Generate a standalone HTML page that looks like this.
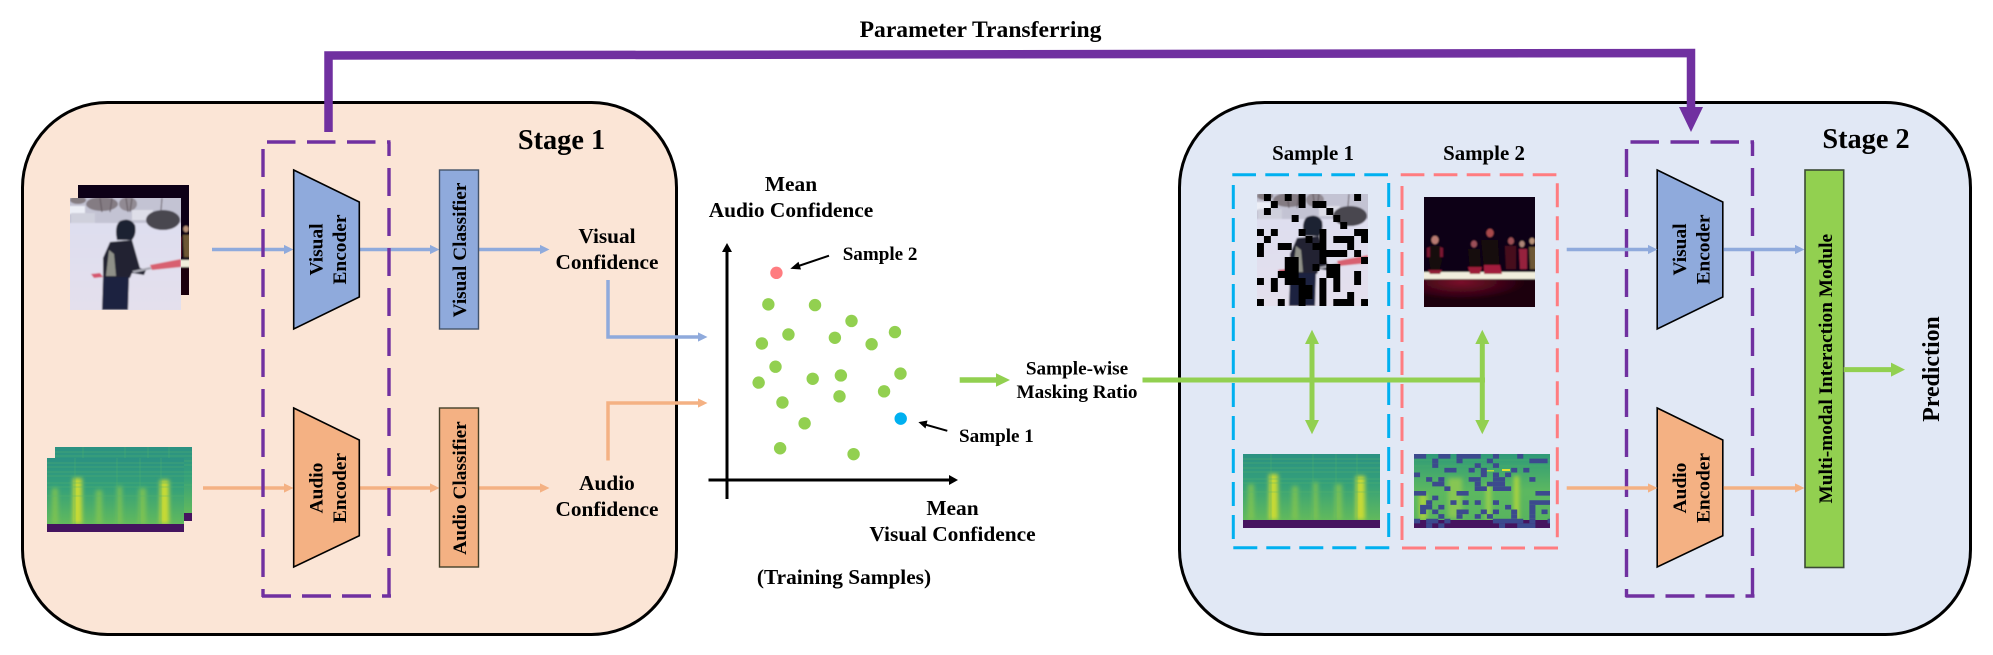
<!DOCTYPE html>
<html lang="en">
<head>
<meta charset="utf-8">
<title>Two-stage sample-wise masking pipeline</title>
<style>
html,body{margin:0;padding:0;background:#fff;width:1993px;height:655px;overflow:hidden}
svg#diagram{display:block}
text{font-family:"Liberation Serif","Noto Serif CJK SC",serif;font-weight:bold;fill:#000}
.mid{text-anchor:middle}
</style>
</head>
<body>
<svg id="diagram" xmlns="http://www.w3.org/2000/svg" width="1993" height="655" viewBox="0 0 1993 655">
<defs>
  <filter id="soft" x="-5%" y="-5%" width="110%" height="110%"><feGaussianBlur stdDeviation="0.7"/></filter>
  <filter id="soft2" x="-60%" y="-20%" width="220%" height="140%"><feGaussianBlur stdDeviation="2.2"/></filter>
  <linearGradient id="specBase" x1="0" y1="0" x2="0" y2="1">
    <stop offset="0" stop-color="#2b9182"/><stop offset="0.4" stop-color="#34a07a"/><stop offset="0.9" stop-color="#62ba5c"/>
  </linearGradient>
  <linearGradient id="specBase2" x1="0" y1="0" x2="0" y2="1">
    <stop offset="0" stop-color="#2e9a78"/><stop offset="0.5" stop-color="#5cb860"/><stop offset="0.9" stop-color="#58b45f"/>
  </linearGradient>
  <linearGradient id="snowGround" x1="0" y1="0" x2="0" y2="1">
    <stop offset="0" stop-color="#dcddf0"/><stop offset="1" stop-color="#e4e0ec"/>
  </linearGradient>
  <radialGradient id="stageGlow" cx="0.35" cy="0.1" r="0.55">
    <stop offset="0" stop-color="#7a0a2a"/><stop offset="1" stop-color="#1a030c"/>
  </radialGradient>

  <g id="snow-scene">
    <g filter="url(#soft)">
      <rect x="-5" y="-5" width="121" height="122" fill="url(#snowGround)"/>
      <rect x="-5" y="-5" width="121" height="30" fill="#c3c3d3"/>
      <ellipse cx="32" cy="6" rx="16" ry="7" fill="#6f6468" opacity="0.75"/>
      <ellipse cx="58" cy="6" rx="9" ry="7" fill="#7c7278" opacity="0.7"/>
      <ellipse cx="8" cy="2" rx="8" ry="4" fill="#6b5f60" opacity="0.7"/>
      <path d="M30 0 L32 14 M42 0 L40 14 M56 0 L58 14 M62 0 L60 14 M92 0 L91 12" stroke="#5f555b" stroke-width="1" fill="none"/>
      <rect x="-3" y="8" width="18" height="8" fill="#eceef6"/>
      <rect x="1" y="15" width="24" height="10" fill="#cfd0dc"/>
      <rect x="62" y="12" width="21" height="10" fill="#dedee8"/>
      <ellipse cx="93" cy="22" rx="17" ry="10" fill="#4a4650"/>
      <path d="M47 42 Q44 28 50 23 Q60 19 65 27 Q67 36 62 42 Z" fill="#1f2130"/>
      <path d="M40 44 L62 42 L70 70 L76 72 L74 77 L62 75 L60 80 L33 80 L33 60 Z" fill="#222433"/>
      <path d="M39 52 L44 56 L46 78 L36 78 Z" fill="#8f9088"/>
      <path d="M33 79 L59 79 L58 112 L32 112 Z" fill="#1e2340"/>
      <path d="M21 76 L30 75 L33 79 L24 80 Z" fill="#d5576e"/>
      <path d="M62 73 L80 69 L82 71 L64 75 Z" fill="#a8a8b2"/>
      <path d="M80 67 L111 61 L111 69 L82 72 Z" fill="#d8606f"/>
    </g>
  </g>

  <g id="stage-scene">
    <g filter="url(#soft)">
      <rect x="-5" y="-5" width="121" height="122" fill="#0a0514"/>
      <rect x="-5" y="82" width="121" height="33" fill="url(#stageGlow)"/>
      <rect x="-5" y="75" width="121" height="7" fill="#f1eedd"/>
      <ellipse cx="11" cy="43" rx="3.6" ry="4.2" fill="#b97a72"/>
      <path d="M5 49 L17 49 L18 64 L15 75 L7 75 L5 64 Z" fill="#12080d"/>
      <path d="M3 51 L6 50 L6 60 L3 60 Z M16 50 L19 51 L19 60 L16 60 Z" fill="#7c1530"/>
      <path d="M4 73 L18 73 L16 77 L6 77 Z" fill="#8f1a34"/>
      <ellipse cx="50" cy="47" rx="3" ry="3.5" fill="#9c5058"/>
      <path d="M44 52 L56 52 L57 75 L46 75 Z" fill="#15080e"/>
      <path d="M44 70 L58 70 L56 77 L46 77 Z" fill="#9c1c38"/>
      <ellipse cx="66" cy="36" rx="3.6" ry="4.2" fill="#a8484c"/>
      <path d="M57 43 L74 43 L76 75 L60 75 Z" fill="#120709"/>
      <path d="M60 68 L76 68 L78 77 L60 77 Z" fill="#a21c3c"/>
      <ellipse cx="87" cy="44" rx="3" ry="3.6" fill="#9c5054"/>
      <path d="M81 49 L92 49 L92 72 L82 72 Z" fill="#47101e"/>
      <ellipse cx="98" cy="47" rx="2.6" ry="3.2" fill="#ae8678"/>
      <path d="M95 52 L103 52 L103 72 L96 72 Z" fill="#96203e"/>
      <ellipse cx="108" cy="44" rx="2.6" ry="3.2" fill="#b89278"/>
      <path d="M105 50 L113 50 L113 72 L106 72 Z" fill="#6e5834"/>
    </g>
  </g>

  <g id="spectrogram">
    <rect width="137" height="74" fill="url(#specBase)"/>
    <g filter="url(#soft2)">
      <rect x="5" y="30" width="6" height="36" fill="#86c650" opacity="0.8"/>
      <rect x="26" y="20" width="9" height="46" fill="#c8da36"/>
      <rect x="49" y="32" width="6" height="34" fill="#86c650" opacity="0.8"/>
      <rect x="70" y="28" width="5" height="38" fill="#86c650" opacity="0.8"/>
      <rect x="92" y="30" width="7" height="36" fill="#86c650" opacity="0.8"/>
      <rect x="113" y="22" width="9" height="44" fill="#c8da36"/>
    </g>
    <path d="M0 5 H137 M0 9 H137 M0 14 H137 M0 18 H137 M0 25 H137 M0 29 H137 M0 38 H137" stroke="#5ab76c" stroke-width="0.7" opacity="0.55"/>
    <path d="M28 0 V66 M70 0 V66 M93 0 V66 M114 0 V66" stroke="#50b36b" stroke-width="0.8" opacity="0.5"/>
    <rect y="66" width="137" height="8" fill="#45145f"/>
  </g>

  <g id="spectrogram-two">
    <rect width="136" height="74" fill="url(#specBase2)"/>
    <path d="M0 6 H136 M0 12 H136 M0 21 H136" stroke="#48ad6c" stroke-width="0.8" opacity="0.8"/>
    <g filter="url(#soft2)">
      <rect x="5" y="40" width="8" height="26" fill="#a6d140"/>
      <rect x="72" y="30" width="5" height="36" fill="#9fd048"/>
      <rect x="100" y="22" width="5" height="44" fill="#b0d53c"/>
      <rect x="34" y="24" width="14" height="40" fill="#86c653"/>
    </g>
    <rect x="88" y="15" width="8" height="2" fill="#e2e22c"/>
    <rect x="70" y="16" width="10" height="1.5" fill="#b6d83a"/>
    <rect y="66" width="136" height="8" fill="#45145f"/>
  </g>
</defs>

<!-- stage panels -->
<rect x="22.5" y="102.5" width="654" height="532" rx="85" ry="85" fill="#fbe5d6" stroke="#000" stroke-width="3"/>
<rect x="1179.5" y="102.5" width="791" height="532" rx="85" ry="85" fill="#e1e8f5" stroke="#000" stroke-width="3"/>

<!-- parameter transfer -->
<g>
  <polyline points="328.5,132 328.5,55.5 1691,53 1691,108" fill="none" stroke="#7030a0" stroke-width="8.5"/>
  <polygon points="1679,107 1703,107 1691,132" fill="#7030a0"/>
</g>
<text x="980.5" y="37" class="mid" font-size="23.6" >Parameter Transferring</text>

<text x="561.5" y="149" class="mid" font-size="28.3">Stage 1</text>
<text x="1866" y="148" class="mid" font-size="28.3">Stage 2</text>

<!-- input images stage 1 -->
<svg x="78" y="185" width="111" height="110" viewBox="0 0 111 110"><use href="#stage-scene"/></svg>
<svg x="70" y="198" width="111" height="112" viewBox="0 0 111 112"><use href="#snow-scene"/></svg>
<svg x="55" y="447" width="137" height="74" viewBox="0 0 137 74"><use href="#spectrogram"/></svg>
<svg x="47" y="458" width="137" height="74" viewBox="0 0 137 74"><use href="#spectrogram"/></svg>

<!-- stage 1 flow arrows -->
<g stroke="#8faadc" stroke-width="3.5" fill="#8faadc">
  <line x1="212" y1="249.5" x2="285" y2="249.5"/><polygon stroke="none" points="284,244.9 293.5,249.5 284,254.1"/>
  <line x1="360" y1="249.5" x2="431" y2="249.5"/><polygon stroke="none" points="430,244.9 439.5,249.5 430,254.1"/>
  <line x1="479" y1="249.5" x2="541" y2="249.5"/><polygon stroke="none" points="540,244.9 549.5,249.5 540,254.1"/>
</g>
<g stroke="#f4b183" stroke-width="3.5" fill="#f4b183">
  <line x1="203" y1="488" x2="285" y2="488"/><polygon stroke="none" points="284,483.4 293.5,488 284,492.6"/>
  <line x1="360" y1="488" x2="431" y2="488"/><polygon stroke="none" points="430,483.4 439.5,488 430,492.6"/>
  <line x1="479" y1="488" x2="541" y2="488"/><polygon stroke="none" points="540,483.4 549.5,488 540,492.6"/>
</g>
<g>
  <polyline points="608,280 608,337 699,337" fill="none" stroke="#8faadc" stroke-width="3.5"/>
  <polygon points="698,332.4 707.5,337 698,341.6" fill="#8faadc"/>
</g>
<g>
  <polyline points="608,460.5 608,403 699,403" fill="none" stroke="#f4b183" stroke-width="3.5"/>
  <polygon points="698,398.4 707.5,403 698,407.6" fill="#f4b183"/>
</g>

<!-- encoder modules stage 1 and stage 2 -->
<g>
  <g stroke="#7030a0" stroke-width="3.4" fill="none">
    <line x1="267" y1="142" x2="390.5" y2="142" stroke-dasharray="28.5 11.5"/>
    <line x1="389" y1="142" x2="389" y2="597" stroke-dasharray="28 12" stroke-dashoffset="14"/>
    <line x1="263" y1="149" x2="263" y2="597" stroke-dasharray="28 12"/>
    <line x1="262" y1="596" x2="391" y2="596" stroke-dasharray="29 11"/>
  </g>
  <polygon points="293.7,170 359.3,202 359.3,297 293.7,329" fill="#8faadc" stroke="#000" stroke-width="1.6"/>
  <text class="mid" font-size="19.4" transform="translate(322.5,249.5) rotate(-90)">Visual</text>
  <text class="mid" font-size="19.4" transform="translate(346,249.5) rotate(-90)">Encoder</text>
  <polygon points="293.7,408 359.3,440 359.3,535.7 293.7,567" fill="#f4b183" stroke="#000" stroke-width="1.6"/>
  <text class="mid" font-size="19.4" transform="translate(322.5,488) rotate(-90)">Audio</text>
  <text class="mid" font-size="19.4" transform="translate(346,488) rotate(-90)">Encoder</text>
</g>
<g transform="translate(1363.5,0)">
  <g stroke="#7030a0" stroke-width="3.4" fill="none">
    <line x1="267" y1="142" x2="390.5" y2="142" stroke-dasharray="28.5 11.5"/>
    <line x1="389" y1="142" x2="389" y2="597" stroke-dasharray="28 12" stroke-dashoffset="14"/>
    <line x1="263" y1="149" x2="263" y2="597" stroke-dasharray="28 12"/>
    <line x1="262" y1="596" x2="391" y2="596" stroke-dasharray="29 11"/>
  </g>
  <polygon points="293.7,170 359.3,202 359.3,297 293.7,329" fill="#8faadc" stroke="#000" stroke-width="1.6"/>
  <text class="mid" font-size="19.4" transform="translate(322.5,249.5) rotate(-90)">Visual</text>
  <text class="mid" font-size="19.4" transform="translate(346,249.5) rotate(-90)">Encoder</text>
  <polygon points="293.7,408 359.3,440 359.3,535.7 293.7,567" fill="#f4b183" stroke="#000" stroke-width="1.6"/>
  <text class="mid" font-size="19.4" transform="translate(322.5,488) rotate(-90)">Audio</text>
  <text class="mid" font-size="19.4" transform="translate(346,488) rotate(-90)">Encoder</text>
</g>

<!-- classifiers -->
<rect x="439.5" y="170" width="39" height="159" fill="#8faadc" stroke="#44546a" stroke-width="1.4"/>
<text class="mid" font-size="19.3" transform="translate(466,250) rotate(-90)">Visual Classifier</text>
<rect x="439.5" y="408" width="39" height="159" fill="#f4b183" stroke="#44402a" stroke-width="1.4"/>
<text class="mid" font-size="19.3" transform="translate(466,488) rotate(-90)">Audio Classifier</text>

<text x="607" y="243" class="mid" font-size="21.3">Visual</text>
<text x="607" y="269" class="mid" font-size="21.3">Confidence</text>
<text x="607" y="490" class="mid" font-size="21.3">Audio</text>
<text x="607" y="516" class="mid" font-size="21.3">Confidence</text>

<!-- scatter chart -->
<g id="scatter">
  <g>
    <line x1="708.5" y1="480" x2="950" y2="480" stroke="#000" stroke-width="3"/>
    <polygon points="949,475 958,480 949,485" fill="#000"/>
  </g>
  <g>
    <line x1="727" y1="499" x2="727" y2="251" stroke="#000" stroke-width="3"/>
    <polygon points="722,252 727,243 732,252" fill="#000"/>
  </g>
  <text x="791" y="191" class="mid" font-size="21.4">Mean</text>
  <text x="791" y="217" class="mid" font-size="21.4">Audio Confidence</text>
  <text x="952.5" y="515" class="mid" font-size="21.4">Mean</text>
  <text x="952.5" y="541" class="mid" font-size="21.4">Visual Confidence</text>
  <text x="844" y="584" class="mid" font-size="21.3">(Training Samples)</text>
  <text x="842.7" y="260" font-size="19.1">Sample 2</text>
  <text x="959" y="442" font-size="19.1">Sample 1</text>
  <g>
    <line x1="829" y1="255.7" x2="797" y2="266.5" stroke="#000" stroke-width="2"/>
    <polygon points="790.3,268.8 798.5,261.8 801,269.5" fill="#000"/>
  </g>
  <g>
    <line x1="947.3" y1="430.8" x2="925" y2="424.5" stroke="#000" stroke-width="2"/>
    <polygon points="918.4,422.1 927.5,420.5 925.5,428.5" fill="#000"/>
  </g>
</g>

<!-- masking ratio -->
<g>
  <line x1="959.7" y1="380" x2="997" y2="380" stroke="#92d050" stroke-width="5.5"/>
  <polygon points="996,373.3 1010,380 996,386.7" fill="#92d050"/>
</g>
<text x="1077" y="374.7" class="mid" font-size="19.2">Sample-wise</text>
<text x="1077" y="398" class="mid" font-size="19.2">Masking Ratio</text>

<!-- sample dashed boxes -->
<g stroke="#00b0f0" stroke-width="3" fill="none">
  <line x1="1232.3" y1="174.7" x2="1388" y2="174.7" stroke-dasharray="23.7 9.3"/>
  <line x1="1233.3" y1="185" x2="1233.3" y2="540" stroke-dasharray="24 9"/>
  <line x1="1388.7" y1="183" x2="1388.7" y2="538" stroke-dasharray="24 9"/>
  <line x1="1233.3" y1="547.7" x2="1390" y2="547.7" stroke-dasharray="24 9"/>
</g>
<g stroke="#ff7c80" stroke-width="3" fill="none">
  <line x1="1400.7" y1="174.7" x2="1557" y2="174.7" stroke-dasharray="23.7 9.3"/>
  <line x1="1402" y1="186" x2="1402" y2="540" stroke-dasharray="24 9"/>
  <line x1="1557.3" y1="183.3" x2="1557.3" y2="539" stroke-dasharray="24 9"/>
  <line x1="1402" y1="548" x2="1559" y2="548" stroke-dasharray="24 9"/>
</g>
<text x="1313" y="160" class="mid" font-size="20.9">Sample 1</text>
<text x="1484" y="160" class="mid" font-size="20.9">Sample 2</text>

<!-- sample images -->
<svg id="maskedVideo" x="1257" y="194" width="111" height="112" viewBox="0 0 111 112"><use href="#snow-scene"/></svg>
<svg x="1424" y="197" width="111" height="110" viewBox="0 0 111 110"><use href="#stage-scene"/></svg>
<svg x="1243" y="454" width="137" height="74" viewBox="0 0 137 74"><use href="#spectrogram"/></svg>
<svg id="maskedAudio" x="1414" y="454" width="136" height="74" viewBox="0 0 136 74"><use href="#spectrogram-two"/></svg>

<!-- green masking connector -->
<g fill="#92d050">
  <line x1="1142.5" y1="380" x2="1485" y2="380" stroke="#92d050" stroke-width="5"/>
  <line x1="1312" y1="343" x2="1312" y2="421" stroke="#92d050" stroke-width="5"/>
  <polygon points="1312,329.7 1319,344 1305,344"/>
  <polygon points="1312,434.3 1319,420 1305,420"/>
  <line x1="1482.3" y1="343" x2="1482.3" y2="421" stroke="#92d050" stroke-width="5"/>
  <polygon points="1482.3,329.7 1489.3,344 1475.3,344"/>
  <polygon points="1482.3,434.3 1489.3,420 1475.3,420"/>
</g>

<!-- stage 2 arrows -->
<g stroke="#8faadc" stroke-width="3.5" fill="#8faadc">
  <line x1="1566.7" y1="249.5" x2="1649" y2="249.5"/><polygon stroke="none" points="1648,244.9 1657.5,249.5 1648,254.1"/>
  <line x1="1723.5" y1="249.5" x2="1796" y2="249.5"/><polygon stroke="none" points="1795,244.9 1804.5,249.5 1795,254.1"/>
</g>
<g stroke="#f4b183" stroke-width="3.5" fill="#f4b183">
  <line x1="1566.7" y1="488" x2="1649" y2="488"/><polygon stroke="none" points="1648,483.4 1657.5,488 1648,492.6"/>
  <line x1="1723.5" y1="488" x2="1796" y2="488"/><polygon stroke="none" points="1795,483.4 1804.5,488 1795,492.6"/>
</g>

<rect x="1805" y="170" width="38.7" height="397.5" fill="#92d050" stroke="#3b4a35" stroke-width="1.6"/>
<text class="mid" font-size="19.33" transform="translate(1832,368.7) rotate(-90)">Multi-modal Interaction Module</text>
<g>
  <line x1="1843.7" y1="369.6" x2="1892" y2="369.6" stroke="#92d050" stroke-width="5"/>
  <polygon points="1891,362.6 1905,369.6 1891,376.6" fill="#92d050"/>
</g>
<text class="mid" font-size="23.85" transform="translate(1939,369) rotate(-90)">Prediction</text>

<script>
// Scatter values: mean visual and mean audio confidence on a 0-1 axis.
const meanVisual = [0.179,0.381,0.539,0.266,0.151,0.467,0.626,0.727,0.210,0.137,0.371,0.493,0.751,0.680,0.487,0.240,0.336,0.230,0.548];
const meanAudio  = [0.741,0.738,0.671,0.614,0.576,0.600,0.573,0.624,0.478,0.411,0.427,0.441,0.449,0.374,0.353,0.327,0.239,0.134,0.109];
const sampleOneVisual = 0.752;
const sampleOneAudio = 0.259;
const sampleTwoVisual = 0.214;
const sampleTwoAudio = 0.874;
// Masked patch cells of the two sample images: [row, first column, last column].
const videoMaskCells = [[0,1,1],[0,4,4],[0,6,6],[0,14,14],[1,2,2],[1,6,6],[1,8,9],[2,1,1],[2,10,10],[3,5,5],[3,11,11],[4,12,12],[5,0,0],[5,2,2],[5,6,6],[5,9,9],[5,14,15],[6,1,1],[6,7,7],[6,9,9],[6,11,13],[6,15,15],[7,0,0],[7,3,4],[7,8,9],[7,13,13],[8,0,0],[8,9,12],[8,14,14],[9,4,5],[9,9,9],[9,15,15],[10,4,5],[10,8,8],[10,10,11],[11,3,5],[11,10,11],[11,14,14],[12,0,0],[12,2,2],[12,4,6],[12,9,9],[12,11,11],[12,14,14],[13,2,2],[13,6,7],[13,9,9],[13,11,11],[14,6,7],[14,9,9],[14,13,13],[15,0,0],[15,3,3],[15,6,6],[15,9,9],[15,11,13],[15,15,15]];
const audioMaskCells = [[0,0,1],[0,4,5],[0,7,10],[0,13,13],[0,17,17],[1,3,3],[1,7,7],[1,12,12],[1,19,21],[2,3,3],[2,10,10],[2,13,13],[3,5,6],[3,9,9],[3,11,11],[3,16,16],[3,18,18],[4,0,0],[4,11,11],[4,13,13],[4,15,15],[5,2,2],[5,4,4],[5,9,10],[5,13,14],[5,19,19],[6,3,4],[6,10,10],[6,12,12],[6,13,14],[7,5,5],[7,10,11],[7,13,15],[8,0,1],[8,7,8],[8,20,22],[9,3,3],[10,2,2],[10,6,6],[10,8,8],[10,10,10],[10,13,13],[10,19,22],[11,1,2],[11,4,4],[11,15,15],[11,19,19],[12,1,1],[12,3,3],[12,7,8],[12,11,11],[12,13,13],[12,16,16],[12,19,19],[12,21,21],[13,4,4],[13,7,7],[13,10,10],[13,12,12],[13,16,16],[13,19,19],[14,0,0],[14,2,3],[14,5,5],[14,13,17],[14,19,19],[14,22,22],[15,2,2],[15,4,4],[15,14,14],[15,17,19]];

const SVGNS = 'http://www.w3.org/2000/svg';
const xAxisOrigin = 727, xAxisLength = 231, yAxisOrigin = 480, yAxisLength = 237;
function xScale(v){ return xAxisOrigin + v * xAxisLength; }
function yScale(v){ return yAxisOrigin - v * yAxisLength; }

const scatter = document.getElementById('scatter');
function drawPoint(vx, vy, color){
  const c = document.createElementNS(SVGNS, 'circle');
  c.setAttribute('cx', xScale(vx));
  c.setAttribute('cy', yScale(vy));
  c.setAttribute('r', 6.2);
  c.setAttribute('fill', color);
  scatter.appendChild(c);
  return c;
}
meanVisual.forEach(function(v, i){
  const p = drawPoint(v, meanAudio[i], '#92d050');
  
  
});
const sampleOnePoint = drawPoint(sampleOneVisual, sampleOneAudio, '#00b0f0');


const sampleTwoPoint = drawPoint(sampleTwoVisual, sampleTwoAudio, '#ff7c80');



const maskedVideo = document.getElementById('maskedVideo');
const videoCellSize = 111 / 16, videoCellHeight = 112 / 16;
videoMaskCells.forEach(function(cell){
  const r = document.createElementNS(SVGNS, 'rect');
  r.setAttribute('x', cell[1] * videoCellSize);
  r.setAttribute('y', cell[0] * videoCellHeight);
  r.setAttribute('width', (cell[2] - cell[1] + 1) * videoCellSize);
  r.setAttribute('height', videoCellHeight);
  r.setAttribute('fill', '#000');
  
  
  maskedVideo.appendChild(r);
});
const maskedAudio = document.getElementById('maskedAudio');
const audioCellWidth = 136 / 22.4, audioCellHeight = 74 / 16;
audioMaskCells.forEach(function(cell){
  const r = document.createElementNS(SVGNS, 'rect');
  r.setAttribute('x', cell[1] * audioCellWidth);
  r.setAttribute('y', cell[0] * audioCellHeight);
  r.setAttribute('width', (cell[2] - cell[1] + 1) * audioCellWidth);
  r.setAttribute('height', audioCellHeight);
  r.setAttribute('fill', '#3c4a8e');
  
  
  maskedAudio.appendChild(r);
});
</script>
</svg>
</body>
</html>
